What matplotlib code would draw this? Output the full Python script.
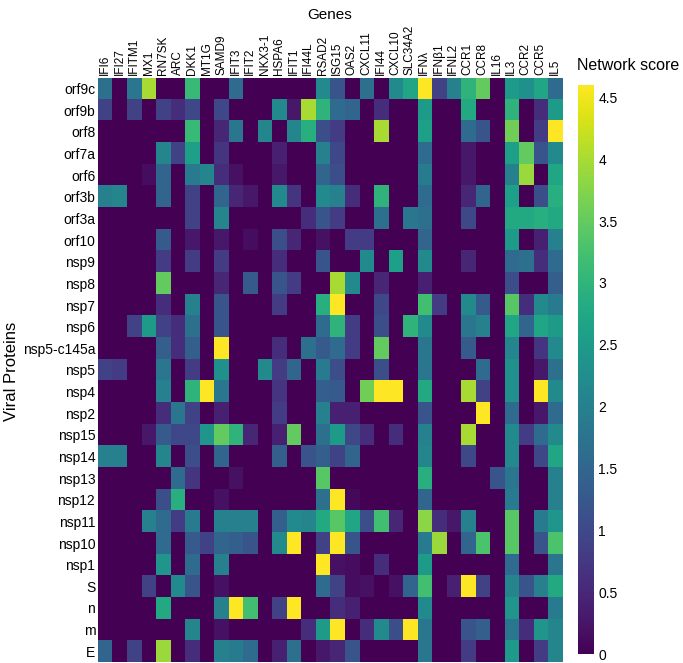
import numpy as np
import matplotlib.pyplot as plt

plt.rcParams['font.family'] = ['Liberation Sans', 'DejaVu Sans']

genes = ["IFI6", "IFI27", "IFITM1", "MX1", "RN7SK", "ARC", "DKK1", "MT1G", "SAMD9",
         "IFIT3", "IFIT2", "NKX3-1", "HSPA6", "IFIT1", "IFI44L", "RSAD2", "ISG15", "OAS2",
         "CXCL11", "IFI44", "CXCL10", "SLC34A2", "IFNλ", "IFNβ1", "IFNL2", "CCR1", "CCR8",
         "IL16", "IL3", "CCR2", "CCR5", "IL5"]

proteins = ["orf9c", "orf9b", "orf8", "orf7a", "orf6", "orf3b", "orf3a", "orf10", "nsp9",
            "nsp8", "nsp7", "nsp6", "nsp5-c145a", "nsp5", "nsp4", "nsp2", "nsp15", "nsp14",
            "nsp13", "nsp12", "nsp11", "nsp10", "nsp1", "S", "n", "m", "E"]

# network score per protein (row) and gene (column)
scores = np.array([
    [1.7, 0, 1.8, 4.0, 0, 0, 3.1, 0, 0, 1.6, 0, 0, 0, 0, 0, 2.2, 1.2, 0, 1.7, 0, 2.2, 2.7, 4.6, 0.9, 2.0, 3.0, 3.5, 0, 2.5, 2.3, 2.7, 1.6],
    [0.9, 0, 0.9, 0, 0.9, 0.6, 1.0, 0, 1.0, 0, 0, 0, 2.2, 0.3, 4.0, 3.0, 1.6, 1.5, 0, 0.6, 0, 0, 2.5, 0, 0, 2.8, 0, 0, 3.0, 0, 0.6, 2.5],
    [0, 0, 0, 0, 0, 0, 3.1, 0, 0.5, 1.8, 0, 2.1, 0, 2.1, 2.9, 1.1, 0.8, 0, 0, 4.0, 0, 0, 2.6, 0, 0, 1.6, 1.2, 0, 3.6, 0, 0.8, 4.6],
    [0, 0, 0, 0, 2.1, 0.9, 2.6, 0, 0.7, 0, 0, 0, 0.4, 0, 0, 2.0, 1.0, 0, 0, 0, 0, 0, 1.6, 0, 0, 0.3, 0, 0, 2.6, 3.5, 1.2, 2.2],
    [0, 0, 0, 0.15, 1.5, 0, 1.9, 2.1, 0.6, 0.2, 0, 0, 0.3, 0, 0, 1.5, 1.1, 0, 0, 0, 0, 0, 1.9, 0, 0, 0.3, 0, 0, 2.0, 3.9, 0, 2.7],
    [2.0, 2.1, 0, 0, 1.5, 0, 0.9, 0, 1.5, 0.5, 0.3, 0, 2.2, 0.7, 0, 2.2, 2.0, 0.6, 0, 3.0, 0, 0, 1.6, 0, 0, 0.5, 1.5, 0, 2.6, 0, 1.1, 2.9],
    [0, 0, 0, 0, 0, 0, 0.9, 0, 2.1, 0, 0, 0, 0, 0, 0.6, 1.2, 0.8, 0, 0, 1.7, 0, 1.8, 1.7, 0, 0, 1.0, 0, 0, 2.8, 2.8, 2.9, 2.8],
    [0, 0, 0, 0, 1.3, 0, 0.3, 0, 0.3, 0, 0.15, 0, 1.1, 0.5, 0, 0.2, 0, 0.8, 0.8, 0, 0, 0, 1.5, 0, 0, 0, 0, 0, 2.5, 0, 0.4, 2.0],
    [0, 0, 0, 0, 0.8, 0, 0.8, 0, 0.8, 0, 0, 0, 0.6, 0, 0, 1.2, 0, 0, 2.2, 0, 2.6, 0, 2.2, 0, 0, 0.5, 0, 0, 1.6, 1.7, 0.6, 1.6],
    [0, 0, 0, 0, 3.5, 0, 0, 0, 0.5, 0, 1.3, 0, 1.2, 0.8, 0, 0, 4.0, 2.2, 0, 0.5, 0, 0, 0.4, 0, 0, 0, 0, 0, 1.1, 0, 0, 1.4],
    [0, 0, 0, 0, 0.6, 0, 2.0, 0, 1.2, 0, 0, 0, 0.8, 0, 0, 2.9, 4.6, 0, 0, 1.0, 0, 0, 3.2, 0.8, 0, 2.2, 1.3, 0, 3.4, 0.6, 2.2, 1.9],
    [0, 0, 0.9, 2.5, 0.9, 0.6, 1.7, 0, 1.2, 0, 0, 0, 0, 0, 0, 1.6, 3.0, 0.8, 0, 1.1, 0, 3.0, 2.2, 0, 0, 1.8, 2.0, 0, 2.7, 1.5, 2.7, 2.5],
    [0, 0, 0, 0, 1.4, 0.6, 1.4, 0, 4.6, 0, 0, 0, 0.6, 0, 1.7, 1.3, 1.6, 0.8, 0, 3.5, 0, 0, 1.8, 0, 0, 1.3, 0, 0, 2.1, 0, 0.7, 2.2],
    [0.9, 0.8, 0, 0, 1.8, 0, 0.8, 0, 2.3, 0, 0, 2.2, 0.8, 1.5, 0, 1.9, 1.1, 0, 0, 1.1, 0, 0, 1.8, 0, 0, 0, 1.6, 0, 2.3, 0, 0.3, 1.7],
    [0, 0, 0, 0, 2.0, 0, 3.0, 4.6, 1.8, 0, 0, 0, 0.7, 0, 0, 1.4, 1.3, 0, 3.6, 4.6, 4.6, 0, 2.8, 0, 0, 4.0, 0.9, 0, 2.3, 0, 4.6, 2.2],
    [0, 0, 0, 0, 0.6, 1.8, 0.9, 0, 0.4, 0, 0, 0, 0.8, 0, 0, 2.0, 0.4, 0.4, 0, 0, 0, 0, 1.2, 0, 0, 0, 4.6, 0, 1.6, 0, 0.3, 1.6],
    [0, 0, 0, 0.3, 1.3, 1.0, 1.0, 2.4, 3.5, 3.0, 0.5, 0, 0.4, 3.5, 0, 1.7, 2.5, 1.0, 0.6, 0, 0.6, 0, 2.0, 0, 0, 4.0, 0, 0, 2.2, 0.8, 1.6, 2.2],
    [2.0, 2.0, 0, 0, 2.1, 0, 1.1, 0, 1.5, 0, 0, 0, 1.4, 0, 1.2, 1.4, 0.9, 1.5, 0, 0, 0, 0, 2.1, 0, 0, 1.0, 0, 0, 2.2, 0, 1.0, 2.7],
    [0, 0, 0, 0, 0, 1.6, 0.7, 0, 0, 0.2, 0, 0, 0, 0, 0, 3.4, 0, 0, 0, 0, 0, 0, 2.9, 0, 0, 0, 0, 1.2, 1.8, 0, 0, 2.0],
    [0, 0, 0, 0, 1.1, 2.9, 0, 0, 0.2, 0, 0, 0, 0, 0, 0, 1.7, 4.6, 0.1, 0, 0, 0, 0, 1.5, 0, 0, 0, 0, 0, 1.9, 0, 0, 2.0],
    [0, 0, 0, 2.0, 1.6, 0.8, 1.9, 0, 2.0, 2.0, 2.0, 0, 1.4, 2.2, 2.1, 2.8, 3.4, 2.7, 1.1, 3.2, 0.5, 0, 3.8, 0.6, 0.3, 2.0, 0, 0, 3.4, 0, 1.9, 2.4],
    [0, 0, 0, 0, 1.6, 0, 1.3, 0.9, 1.5, 1.4, 1.2, 0, 2.2, 4.6, 0, 0.9, 4.6, 1.2, 0, 0, 0, 0, 1.9, 3.9, 0, 1.5, 3.3, 0, 3.4, 0, 1.2, 3.3],
    [0, 0, 0, 0, 2.4, 0, 1.6, 0, 2.0, 0, 0, 0, 0, 0, 0, 4.6, 0.2, 0.15, 0, 0.6, 0, 0, 2.5, 0, 0, 0, 0, 0, 1.6, 0, 0, 1.8],
    [0, 0, 0, 0.9, 0, 2.2, 1.2, 0, 0.2, 0, 0, 0, 0, 0, 0, 1.6, 0.9, 0.15, 0.2, 0, 0.2, 1.5, 3.2, 0, 0.4, 4.6, 0.9, 0, 2.1, 1.2, 2.0, 2.8],
    [0, 0, 0, 0, 2.8, 0, 0, 0, 2.0, 4.6, 3.2, 0, 0.9, 4.6, 0, 0, 0.6, 0.4, 0, 0, 0, 0, 2.2, 0, 0, 0, 0, 0, 2.4, 0, 0, 1.9],
    [0, 0, 0, 0, 0, 0, 2.1, 0, 0.2, 0, 0, 0, 0, 0, 0.6, 2.5, 4.6, 0, 0.6, 2.2, 1.1, 4.6, 1.8, 0, 0, 1.2, 1.4, 0, 1.8, 0.6, 2.4, 2.1],
    [1.5, 0, 0.9, 0, 3.9, 0, 0.6, 0, 2.0, 1.9, 1.6, 0, 0.4, 1.7, 0, 0.3, 0.5, 1.2, 0, 0, 0, 0, 1.8, 0, 0, 0.8, 0, 0, 2.5, 0, 0.8, 2.1],
])

fig = plt.figure(figsize=(6.83, 6.63), dpi=100)
ax = fig.add_axes([0.1435, 0.0015, 0.6795, 0.881])
cax = fig.add_axes([0.846, 0.013, 0.024, 0.859])

im = ax.imshow(scores, cmap="viridis", vmin=0, vmax=4.6, aspect="auto",
               interpolation="nearest")

ax.set_xticks(np.arange(len(genes)))
ax.set_xticklabels(genes, rotation=90, fontsize=8.5)
ax.xaxis.tick_top()
ax.set_yticks(np.arange(len(proteins)))
ax.set_yticklabels(proteins, fontsize=10)
ax.tick_params(length=0, pad=2)
for s in ax.spines.values():
    s.set_visible(False)

fig.text(0.483, 0.988, "Genes", fontsize=11, ha="center", va="top")
fig.text(0.006, 0.44, "Viral Proteins", fontsize=12, rotation=90, ha="left", va="center")

cb = fig.colorbar(im, cax=cax, ticks=[0, 0.5, 1, 1.5, 2, 2.5, 3, 3.5, 4, 4.5])
cb.ax.set_yticklabels(["0", "0.5", "1", "1.5", "2", "2.5", "3", "3.5", "4", "4.5"])
cb.ax.tick_params(length=0, labelsize=10, pad=3)
cb.outline.set_visible(False)
fig.text(0.845, 0.89, "Network score", fontsize=11.5, ha="left", va="bottom")

fig.savefig("out.png", dpi=100)
